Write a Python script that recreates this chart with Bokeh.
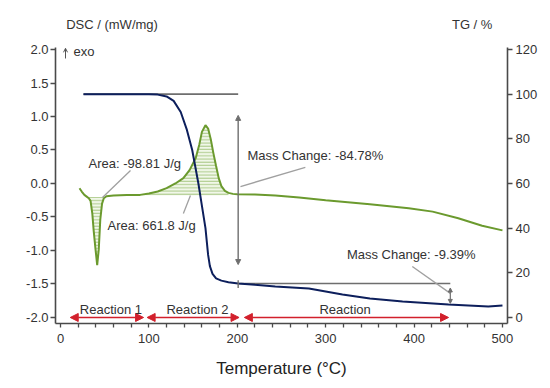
from bokeh.plotting import figure
from bokeh.layouts import column
from bokeh.models import (Range1d, LinearAxis, FixedTicker, NumeralTickFormatter,
                          Arrow, NormalHead, OpenHead, Label)
from bokeh.core.properties import value
from bokeh.embed import file_html
from bokeh.resources import INLINE
import numpy as np

# ---------------- data ----------------
dsc_temp = [21.5, 24, 27, 30, 32, 34, 36, 37.5, 39.6, 41.5, 43.3, 45, 47, 49, 52, 60, 75,
            90, 100, 110, 120, 130, 139, 146, 153, 157, 160, 164, 167, 170, 173, 176, 179,
            182, 186, 190, 195, 200, 220, 243, 270, 300, 350, 394, 421, 450, 477, 500]
dsc_val = [-0.07, -0.12, -0.17, -0.20, -0.22, -0.26, -0.45, -0.70, -0.98, -1.22, -0.98, -0.54,
           -0.30, -0.22, -0.19, -0.18, -0.17, -0.17, -0.15, -0.12, -0.07, 0.00, 0.08, 0.20,
           0.38, 0.58, 0.77, 0.87, 0.82, 0.66, 0.45, 0.26, 0.08, -0.04, -0.11, -0.14, -0.155,
           -0.16, -0.165, -0.18, -0.21, -0.25, -0.31, -0.37, -0.42, -0.52, -0.63, -0.70]

tg_temp = [26, 100, 110, 120, 128, 136, 143, 149, 156, 160, 164, 167, 169, 172, 176, 182,
           190, 201, 220, 243, 281, 319, 350, 387, 439, 484, 500]
tg_val = [100, 100, 99.8, 99, 97, 92, 84, 75, 60, 50, 40, 28, 23, 19.5, 17.5, 16.5,
          15.8, 15.2, 14.6, 13.9, 13.0, 10.3, 8.5, 7.2, 5.8, 4.9, 5.4]

# integration areas (DSC peaks)
area1_range = (30, 49)
area1_base = -0.20
area2_range = (75, 190)
area2_base = -0.18
area_texts = ["Area: -98.81 J/g", "Area: 661.8 J/g"]

# mass change steps (TG)
step1_temp = 201
step1_levels = (100, 15.2)
step1_start = 26
step2_temp = 441
step2_levels = (15.2, 5.8)
mass_texts = ["Mass Change: -84.78%", "Mass Change: -9.39%"]

# reactions
reaction_names = ["Reaction 1", "Reaction 2", "Reaction"]
reaction_start = [11, 98, 208]
reaction_end = [94, 202, 439]
reaction_label_x = [57, 155, 322]

x_major = [0, 100, 200, 300, 400, 500]
x_minor = [t for t in range(0, 501, 20) if t % 100 != 0]
dsc_ticks = [-2.0, -1.5, -1.0, -0.5, 0.0, 0.5, 1.0, 1.5, 2.0]
tg_ticks = [0, 20, 40, 60, 80, 100, 120]
axis_titles = ["DSC / (mW/mg)", "TG / %"]

# ---------------- styles ----------------
FONT = "Liberation Sans"
GREEN = "#6b9a2e"
NAVY = "#0d1f5c"
GRAY = "#6e6e6e"
LGRAY = "#a0a0a0"
RED = "#d2202c"
AXIS = "#4a4a4a"
TXT = "#333333"
W = 550
TOP_H = 38

# ---------- top strip with the axis titles ----------
top = figure(width=W, height=TOP_H, x_range=Range1d(0, W), y_range=Range1d(TOP_H, 0),
             output_backend="svg", toolbar_location=None, min_border=0)
top.axis.visible = False
top.grid.visible = False
top.outline_line_color = None
top.text(x=[13], y=[24], text=[axis_titles[0]], text_font=value(FONT),
         text_font_size="13px", text_color=TXT, text_align="left", text_baseline="middle")
top.text(x=[507], y=[24], text=[axis_titles[1]], text_font=value(FONT),
         text_font_size="13px", text_color=TXT, text_align="center", text_baseline="middle")

# ---------- main plot ----------
dsc_lo, dsc_hi = -2.09, 2.03
p = figure(width=W, height=388 - TOP_H, x_range=Range1d(-5.66, 505.7),
           y_range=Range1d(dsc_lo, dsc_hi), output_backend="svg", toolbar_location=None,
           min_border_left=55, min_border_right=43, min_border_top=9, min_border_bottom=65)
p.extra_y_ranges = {"tg": Range1d((dsc_lo + 2) * 30, (dsc_hi + 2) * 30)}
p.xgrid.visible = False
p.ygrid.visible = False
p.outline_line_color = None

xa = p.xaxis[0]
xa.ticker = FixedTicker(ticks=x_major, minor_ticks=x_minor)
ya = p.yaxis[0]
ya.ticker = FixedTicker(ticks=dsc_ticks)
ya.formatter = NumeralTickFormatter(format="0.0")
ra = LinearAxis(y_range_name="tg", ticker=FixedTicker(ticks=tg_ticks))
p.add_layout(ra, "right")
for ax in (xa, ya, ra):
    ax.axis_line_color = AXIS
    ax.axis_line_width = 1.6
    ax.major_tick_line_color = AXIS
    ax.minor_tick_line_color = AXIS
    ax.major_tick_line_width = 1.3
    ax.minor_tick_line_width = 1.3
    ax.major_tick_in = 0
    ax.minor_tick_in = 0
    ax.major_label_text_font = FONT
    ax.major_label_text_font_size = "13px"
    ax.major_label_text_color = TXT
xa.major_tick_out = 4
xa.minor_tick_out = 4
xa.major_label_standoff = 6
ya.major_tick_out = 5
ya.minor_tick_line_color = None
ya.major_label_standoff = 2
ra.major_tick_out = 5
ra.minor_tick_line_color = None
ra.major_label_standoff = 3
xa.axis_label = "Temperature (°C)"
xa.axis_label_text_font = FONT
xa.axis_label_text_font_size = "17px"
xa.axis_label_text_font_style = "normal"
xa.axis_label_text_color = "#222222"
xa.axis_label_standoff = 13

# hatched areas
t_arr = np.array(dsc_temp)
d_arr = np.array(dsc_val)
for (lo, hi), base in ((area1_range, area1_base), (area2_range, area2_base)):
    m = (t_arr >= lo) & (t_arr <= hi)
    p.varea(x=t_arr[m], y1=np.full(m.sum(), base), y2=d_arr[m], fill_color="#f1f7e9",
            hatch_pattern="horizontal_line", hatch_color="#a9c886", hatch_scale=3.2,
            hatch_weight=1)

p.line(dsc_temp, dsc_val, line_color=GREEN, line_width=2)

# TG reference lines
p.line([step1_start, step1_temp], [step1_levels[0]] * 2, y_range_name="tg",
       line_color=GRAY, line_width=1.6)
p.line([step1_temp, step2_temp], [step1_levels[1]] * 2, y_range_name="tg",
       line_color=GRAY, line_width=1.6)
p.line(tg_temp, tg_val, y_range_name="tg", line_color=NAVY, line_width=2)
p.line([step1_temp, step1_temp], [step1_levels[1] - 2, step1_levels[1] + 1.5],
       y_range_name="tg", line_color=GRAY, line_width=1.4)


def head(c, s):
    return NormalHead(size=s, fill_color=c, line_color=c, line_width=1)


p.add_layout(Arrow(start=head(GRAY, 5), end=head(GRAY, 5), x_start=step1_temp,
                   x_end=step1_temp, y_start=step1_levels[0] - 9.5,
                   y_end=step1_levels[1] + 8.5, y_range_name="tg",
                   line_color=GRAY, line_width=1.4))
p.add_layout(Arrow(start=head(GRAY, 4), end=head(GRAY, 4), x_start=step2_temp,
                   x_end=step2_temp, y_start=step2_levels[0] - 2,
                   y_end=step2_levels[1] + 0.5, y_range_name="tg",
                   line_color=GRAY, line_width=1.2))

# leader lines
leaders = [((79.2, 0.194), (47.5, -0.209)),
           ((139, -0.448), (147, -0.179)),
           ((203.6, -0.045), (277, 0.239)),
           ((398, -1.24), (441, -1.64))]
for (x0, y0), (x1, y1) in leaders:
    p.line([x0, x1], [y0, y1], line_color=LGRAY, line_width=1.3)


def lab(x, y, text, align="left", size="13px"):
    p.add_layout(Label(x=x, y=y, text=text, text_font=FONT, text_font_size=size,
                       text_color=TXT, text_align=align, text_baseline="middle"))


lab(31.7, 0.30, area_texts[0])
lab(53.2, -0.63, area_texts[1])
lab(211.5, 0.42, mass_texts[0])
lab(324, -1.06, mass_texts[1])

# "exo" marker
p.add_layout(Arrow(end=OpenHead(size=4, line_color="#555555", line_width=1),
                   x_start=5.66, x_end=5.66, y_start=1.866, y_end=2.018,
                   line_color="#555555", line_width=1))
lab(14.7, 1.97, "exo")

# reaction arrows
for name, s, e, lx in zip(reaction_names, reaction_start, reaction_end, reaction_label_x):
    p.add_layout(Arrow(start=head(RED, 8), end=head(RED, 8), x_start=s, x_end=e,
                       y_start=-2.0, y_end=-2.0, line_color=RED, line_width=1.4))
    lab(lx, -1.88, name, align="center")

open("out.html", "w").write(file_html(column(top, p, spacing=0), INLINE))
